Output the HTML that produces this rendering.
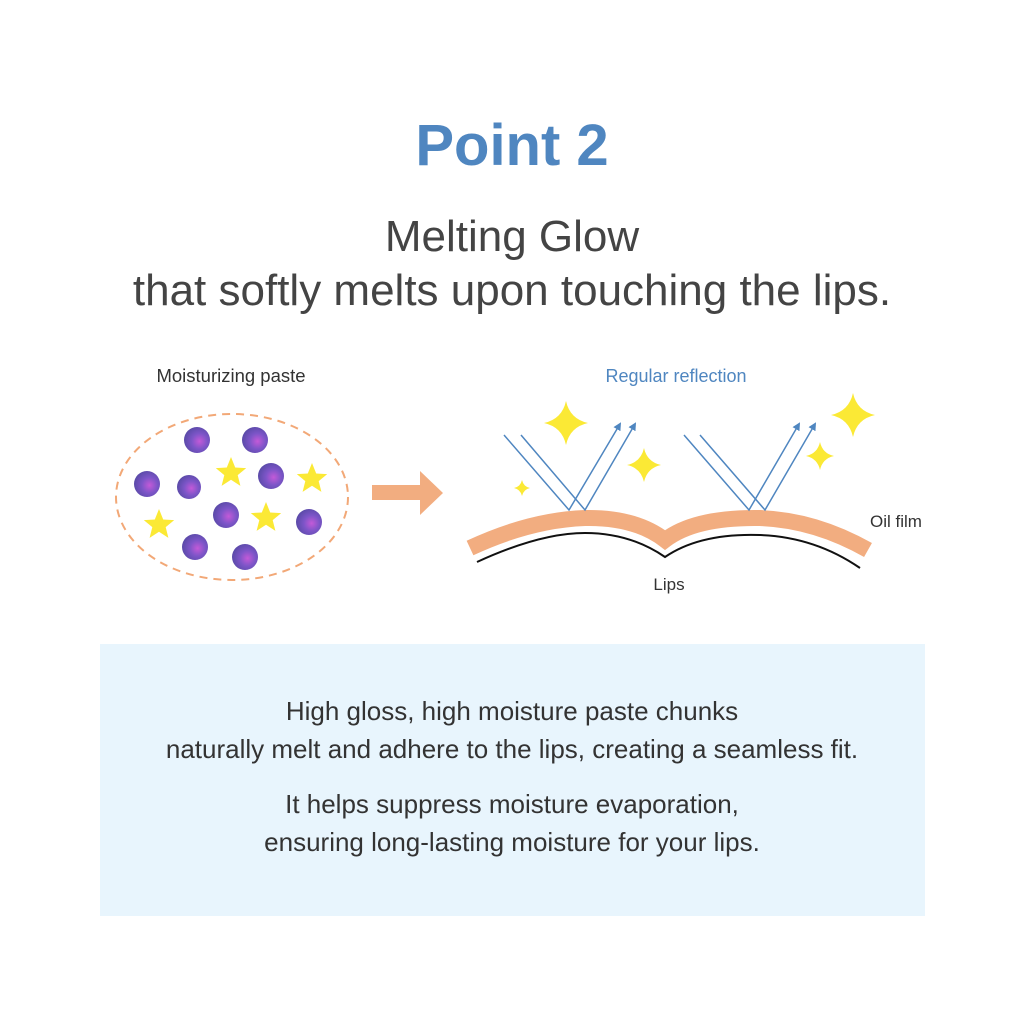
<!DOCTYPE html>
<html><head><meta charset="utf-8"><style>
body{margin:0;width:1024px;height:1024px;background:#fff;position:relative;font-family:"Liberation Sans",sans-serif;overflow:hidden}
.t{position:absolute;left:0;width:1024px;text-align:center;color:#444}
</style></head><body>
<div class="t" style="top:112px;font-size:58px;font-weight:bold;color:#4f86c0">Point 2</div>
<div class="t" style="top:210px;font-size:44px;line-height:54px">Melting Glow<br>that softly melts upon touching the lips.</div>
<div style="position:absolute;left:100px;top:644px;width:825px;height:272px;background:#e8f5fd"></div>
<div class="t" style="top:692px;font-size:26px;line-height:38px;color:#333">High gloss, high moisture paste chunks<br>naturally melt and adhere to the lips, creating a seamless fit.</div>
<div class="t" style="top:785px;font-size:26px;line-height:38px;color:#333">It helps suppress moisture evaporation,<br>ensuring long-lasting moisture for your lips.</div>
<svg width="1024" height="1024" style="position:absolute;left:0;top:0">
<defs>
<radialGradient id="g" cx="0.6" cy="0.55" r="0.6"><stop offset="0" stop-color="#c35ad8"/><stop offset="0.5" stop-color="#7d55c8"/><stop offset="1" stop-color="#5a4aa8"/></radialGradient>
<polygon id="st" points="0,-16 4.2,-5.5 15.2,-4.9 6.7,2.1 9.4,12.9 0,6.8 -9.4,12.9 -6.7,2.1 -15.2,-4.9 -4.2,-5.5" fill="#fbe935"/>
<path id="sp" d="M0,-1 Q0.18,-0.18 1,0 Q0.18,0.18 0,1 Q-0.18,0.18 -1,0 Q-0.18,-0.18 0,-1Z" fill="#fbe935"/>
<marker id="a" markerWidth="8" markerHeight="8" refX="6" refY="4" orient="auto" markerUnits="userSpaceOnUse"><path d="M0,0L8,4L0,8Z" fill="#4f86c0"/></marker>
</defs>
<text x="231" y="382" font-size="18.5" fill="#333" text-anchor="middle" font-family="Liberation Sans">Moisturizing paste</text>
<ellipse cx="232" cy="497" rx="116" ry="83" fill="none" stroke="#f2a877" stroke-width="2" stroke-dasharray="8,6"/>
<g fill="url(#g)">
<circle cx="197" cy="440" r="13"/><circle cx="255" cy="440" r="13"/><circle cx="147" cy="484" r="13"/><circle cx="189" cy="487" r="12"/><circle cx="271" cy="476" r="13"/><circle cx="226" cy="515" r="13"/><circle cx="309" cy="522" r="13"/><circle cx="195" cy="547" r="13"/><circle cx="245" cy="557" r="13"/>
</g>
<use href="#st" x="231" y="473"/><use href="#st" x="312" y="479"/><use href="#st" x="159" y="525"/><use href="#st" x="266" y="518"/>
<path d="M372,485H420V471L443,493L420,515V500H372Z" fill="#f2ad80"/>
<text x="676" y="382" font-size="18" fill="#4f86c0" text-anchor="middle" font-family="Liberation Sans">Regular reflection</text>
<path d="M470,548 Q530,520 585,518 Q635,517 665,540 Q695,517 760,518 Q815,520 868,550" fill="none" stroke="#f2ad80" stroke-width="16"/>
<path d="M477,562 Q540,533 585,533 Q630,533 665,557 Q700,533 760,535 Q815,537 860,568" fill="none" stroke="#111" stroke-width="2"/>
<g stroke="#4f86c0" stroke-width="1.5" fill="none">
<path d="M504,435L569,510L620,424" marker-end="url(#a)"/>
<path d="M521,435L585,510L635,424" marker-end="url(#a)"/>
<path d="M684,435L749,510L799,424" marker-end="url(#a)"/>
<path d="M700,435L765,510L815,424" marker-end="url(#a)"/>
</g>
<use href="#sp" transform="translate(566,423) scale(22)"/>
<use href="#sp" transform="translate(644,465) scale(17)"/>
<use href="#sp" transform="translate(522,488) scale(8)"/>
<use href="#sp" transform="translate(853,415) scale(22)"/>
<use href="#sp" transform="translate(820,456) scale(14)"/>
<text x="870" y="527" font-size="17" fill="#333" font-family="Liberation Sans">Oil film</text>
<text x="669" y="590" font-size="17" fill="#333" text-anchor="middle" font-family="Liberation Sans">Lips</text>
</svg>
</body></html>
